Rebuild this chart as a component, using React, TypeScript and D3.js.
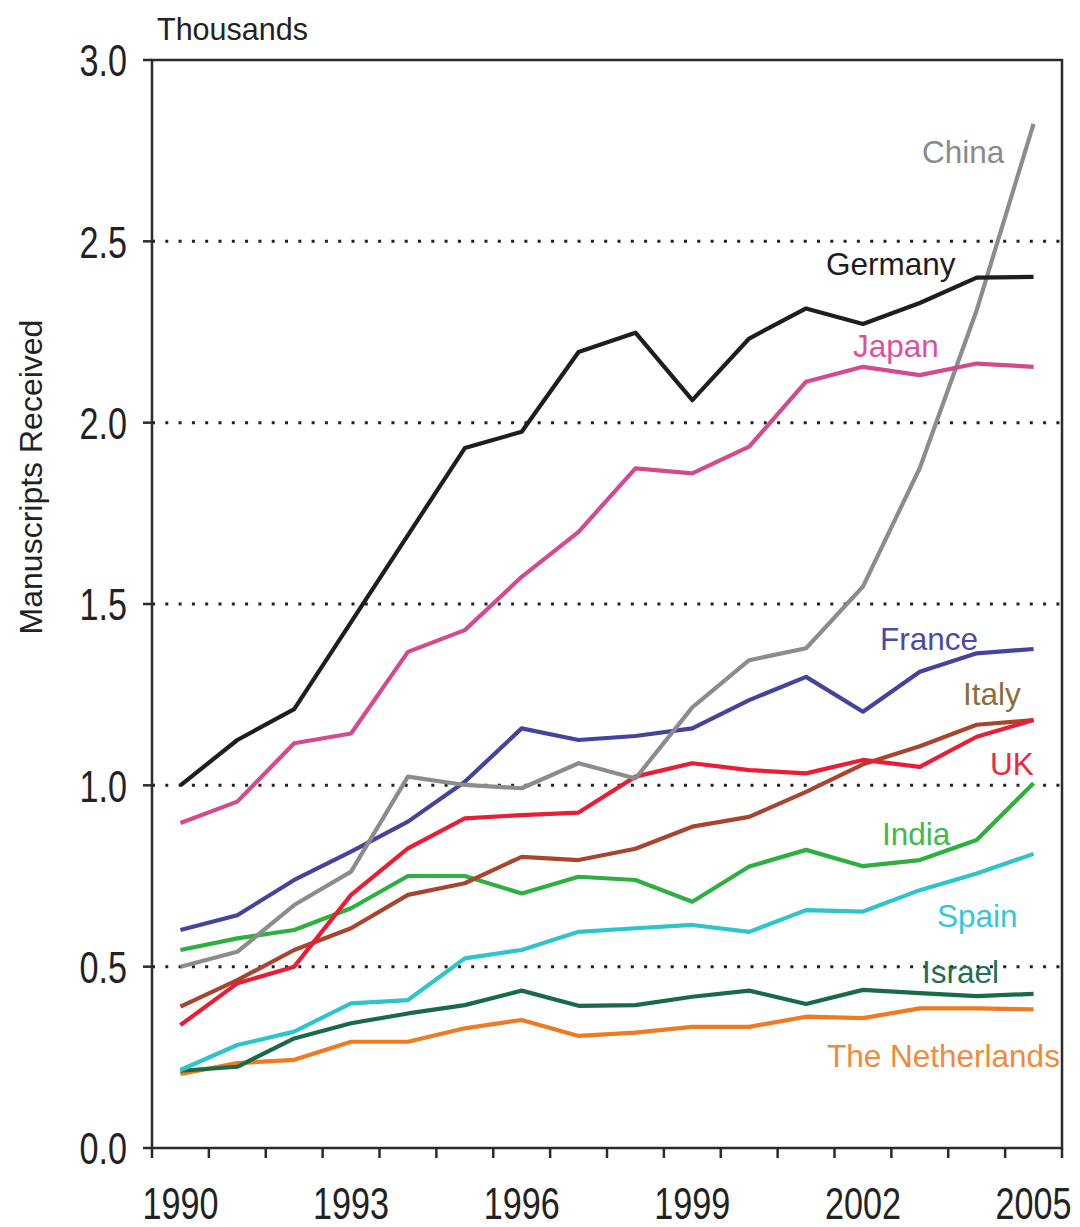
import React from "react";
import * as d3 from "d3";

const years = d3.range(1990, 2006).map(String);
const yearLabels = ["1990", "1993", "1996", "1999", "2002", "2005"];
const yTicks = [0, 0.5, 1.0, 1.5, 2.0, 2.5, 3.0];
const gridTicks = [0.5, 1.0, 1.5, 2.0, 2.5];

// values in thousands, 1990..2005
const germany = [1.0, 1.125, 1.21, 1.45, 1.69, 1.93, 1.975, 2.195, 2.248, 2.062, 2.232, 2.315, 2.272, 2.33, 2.4, 2.402];
const japan = [0.896, 0.955, 1.116, 1.143, 1.368, 1.428, 1.575, 1.699, 1.874, 1.86, 1.934, 2.113, 2.154, 2.131, 2.163, 2.154];
const china = [0.5, 0.541, 0.67, 0.762, 1.024, 1.001, 0.992, 1.061, 1.019, 1.215, 1.345, 1.378, 1.548, 1.875, 2.31, 2.824];
const france = [0.601, 0.642, 0.739, 0.817, 0.9, 1.01, 1.157, 1.125, 1.136, 1.157, 1.235, 1.299, 1.203, 1.313, 1.364, 1.376];
const italy = [0.39, 0.463, 0.546, 0.606, 0.698, 0.73, 0.803, 0.794, 0.825, 0.886, 0.913, 0.982, 1.058, 1.108, 1.167, 1.18];
const uk = [0.339, 0.454, 0.5, 0.698, 0.826, 0.909, 0.918, 0.925, 1.024, 1.061, 1.042, 1.033, 1.07, 1.051, 1.134, 1.18];
const india = [0.546, 0.578, 0.601, 0.661, 0.75, 0.75, 0.702, 0.748, 0.739, 0.679, 0.776, 0.822, 0.777, 0.794, 0.849, 1.006];
const spain = [0.215, 0.284, 0.321, 0.399, 0.408, 0.523, 0.546, 0.596, 0.606, 0.615, 0.596, 0.656, 0.652, 0.711, 0.757, 0.811];
const israel = [0.213, 0.224, 0.302, 0.344, 0.371, 0.394, 0.434, 0.392, 0.394, 0.417, 0.434, 0.397, 0.436, 0.427, 0.419, 0.425];
const netherlands = [0.204, 0.234, 0.243, 0.293, 0.293, 0.33, 0.353, 0.309, 0.318, 0.334, 0.334, 0.362, 0.358, 0.385, 0.385, 0.382];

type Series = { name: string, values: number[], color: string, labelColor: string, lx: number, ly: number };

const series: Series[] = [
    { name: "The Netherlands", values: netherlands, color: "#f07a22", labelColor: "#f08a3a", lx: 827, ly: 1067 },
    { name: "Israel", values: israel, color: "#1a6a4a", labelColor: "#1f7050", lx: 922, ly: 983 },
    { name: "Spain", values: spain, color: "#2ec4cc", labelColor: "#33c8d8", lx: 937, ly: 927 },
    { name: "India", values: india, color: "#2db040", labelColor: "#40b84a", lx: 882, ly: 845 },
    { name: "Italy", values: italy, color: "#a8452e", labelColor: "#8a6e3c", lx: 963, ly: 705 },
    { name: "UK", values: uk, color: "#e81e34", labelColor: "#ee2a3a", lx: 990, ly: 775 },
    { name: "France", values: france, color: "#44449c", labelColor: "#4a4aa8", lx: 880, ly: 650 },
    { name: "China", values: china, color: "#8c8c8c", labelColor: "#8a8a8a", lx: 922, ly: 163 },
    { name: "Japan", values: japan, color: "#d44a8e", labelColor: "#e0509a", lx: 853, ly: 357 },
    { name: "Germany", values: germany, color: "#1e1e1e", labelColor: "#1e1e1e", lx: 826, ly: 275 },
];

const W = 1080, H = 1227;
const left = 152, right = 1062, top = 60, bottom = 1148;

export default function App() {
    const x = d3.scaleBand<string>().domain(years).range([left, right]).padding(0);
    const y = d3.scaleLinear().domain([0, 3]).range([bottom, top]);
    const cx = (yr: string) => (x(yr) ?? 0) + x.bandwidth() / 2;

    const line = d3.line<number>()
        .x((_, i) => cx(years[i]!))
        .y(d => y(d));

    // no narrow font installed: squeeze the regular one horizontally
    const sans = "'Liberation Sans', Arial, sans-serif";
    const squeeze = 0.76;
    const axisColor = "#2a2a2a";

    const boundaries = [...years.map(yr => x(yr)!), right];

    return <svg width={W} height={H} style={{ position: "absolute", left: 0, top: 0, background: "#fff" }}>
        {/* dotted grid */}
        {gridTicks.map(t =>
            <line key={t} x1={left} x2={right} y1={y(t)} y2={y(t)}
                stroke="#222" strokeWidth={3} strokeDasharray="3 10.3" />
        )}

        {/* frame */}
        <rect x={left} y={top} width={right - left} height={bottom - top}
            fill="none" stroke={axisColor} strokeWidth={2.5} />

        {/* y ticks and labels */}
        {yTicks.map(t => <g key={t}>
            <line x1={left - 9} x2={left} y1={y(t)} y2={y(t)} stroke={axisColor} strokeWidth={2.5} />
            <text transform={`translate(127,${y(t)}) scale(${squeeze},1)`} dy="0.36em" textAnchor="end"
                fontFamily={sans} fontSize={45} fill="#222">{t.toFixed(1)}</text>
        </g>)}

        {/* x ticks */}
        {boundaries.map((b, i) =>
            <line key={i} x1={b} x2={b} y1={bottom} y2={bottom + 10} stroke={axisColor} strokeWidth={2.5} />
        )}
        {yearLabels.map(yr =>
            <text key={yr} transform={`translate(${cx(yr)},1219) scale(${squeeze},1)`} textAnchor="middle"
                fontFamily={sans} fontSize={45} fill="#222">{yr}</text>
        )}

        <text x={157} y={40} fontFamily={sans} fontSize={30.5} fill="#222">Thousands</text>
        <text transform={`translate(42,477) rotate(-90)`} textAnchor="middle" fontFamily={sans}
            fontSize={32} fill="#222">Manuscripts Received</text>

        {/* series */}
        {series.map(s =>
            <path key={s.name} d={line(s.values) ?? ""} fill="none" stroke={s.color}
                strokeWidth={4.2} strokeLinejoin="round" />
        )}
        {series.map(s =>
            <text key={s.name + "-l"} x={s.lx} y={s.ly} fontFamily={sans} fontSize={31.5}
                fill={s.labelColor}>{s.name}</text>
        )}
    </svg>
}
